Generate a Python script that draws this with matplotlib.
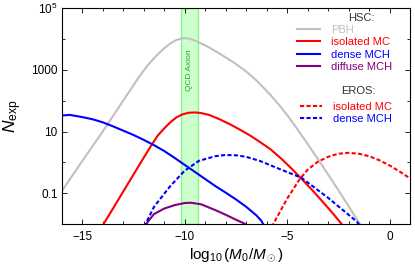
import numpy as np
import matplotlib
matplotlib.use('Agg')
import matplotlib.pyplot as plt
from matplotlib.ticker import FixedLocator, NullFormatter

plt.rcParams['font.family'] = ['Liberation Sans', 'DejaVu Sans']
plt.rcParams['mathtext.fontset'] = 'custom'
plt.rcParams['mathtext.rm'] = 'Liberation Sans'
plt.rcParams['mathtext.it'] = 'Liberation Sans:italic'

# ---- data: x = log10(M0/Msun), values = log10(N_exp)
pbh_x = [-16, -15, -14, -13, -12.6, -12.2, -11.8, -11.4, -11.0, -10.7, -10.4, -10.1,
         -9.8, -9.5, -9.0, -8.6, -8.2, -7.6, -7.1, -6.8, -6.5, -5.8, -5.3, -5.0, -4.5,
         -4.0, -3.5, -3.0, -2.5, -2.0, -1.6, -1.4]
pbh_log = [-0.94, 0.04, 1.0, 2.0, 2.4, 2.8, 3.15, 3.45, 3.7, 3.86, 3.97, 4.03,
           4.02, 3.95, 3.8, 3.65, 3.49, 3.24, 3.0, 2.84, 2.66, 2.18, 1.79, 1.54, 1.08,
           0.6, 0.11, -0.39, -0.9, -1.42, -1.84, -2.05]

iso_hsc_x = [-14.05, -13.5, -13, -12.5, -12, -11.6, -11.3, -11.0, -10.7, -10.4, -10.1,
             -9.8, -9.5, -9.2, -8.8, -8.3, -7.8, -7.3, -6.8, -6.3, -5.8, -5.3, -4.8,
             -4.3, -3.8, -3.3, -2.8, -2.4, -2.25]
iso_hsc_log = [-2.1, -1.5, -0.95, -0.4, 0.15, 0.58, 0.88, 1.1, 1.3, 1.46, 1.56,
               1.61, 1.62, 1.6, 1.54, 1.4, 1.24, 1.06, 0.87, 0.65, 0.42, 0.13, -0.19,
               -0.53, -0.88, -1.25, -1.63, -1.95, -2.08]

dense_hsc_x = [-16, -15.6, -15, -14.5, -14, -13.5, -13, -12.5, -12, -11.5, -11, -10.5,
               -10, -9.5, -9, -8.5, -8, -7.5, -7, -6.5, -6.25, -6.1]
dense_hsc_log = [1.52, 1.54, 1.47, 1.40, 1.30, 1.17, 1.03, 0.89, 0.73, 0.56, 0.37, 0.15,
                 -0.08, -0.31, -0.54, -0.77, -0.98, -1.2, -1.44, -1.72, -1.9, -2.1]

diffuse_hsc_x = [-11.95, -11.8, -11.5, -11.0, -10.5, -10.0, -9.7, -9.2, -8.5, -8.0,
                 -7.5, -7.1, -6.95]
diffuse_hsc_log = [-2.1, -1.93, -1.68, -1.5, -1.39, -1.32, -1.31, -1.36, -1.55, -1.7,
                   -1.86, -1.98, -2.05]

iso_eros_x = [-5.75, -5.6, -5.0, -4.4, -4.0, -3.5, -3.0, -2.5, -2.0, -1.5, -1.0, -0.5,
              0.0, 0.5, 1.0]
iso_eros_log = [-2.1, -1.91, -1.18, -0.56, -0.24, 0.02, 0.18, 0.28, 0.31, 0.28, 0.2,
                0.07, -0.1, -0.3, -0.52]

dense_eros_x = [-11.95, -11.8, -11.5, -11.0, -10.7, -10.0, -9.3, -8.5, -8.0, -7.5, -7.0,
                -6.3, -5.5, -4.3, -3.0, -2.0, -1.6, -1.45]
dense_eros_log = [-2.1, -1.85, -1.45, -1.02, -0.77, -0.27, 0.05, 0.2, 0.24, 0.23, 0.18,
                  0.04, -0.18, -0.5, -1.15, -1.7, -1.92, -2.05]

qcd_band = (-10.2, -9.37)

yticks = [0.1, 10, 1000, 1e5]
yticklabels = ['0.1', '10', '1000', r'$10^5$']
xticks = [-15, -10, -5, 0]
xticklabels = ['\u221215', '\u221210', '\u22125', '0']

# ==============================================================================

fig = plt.figure(figsize=(4.15, 2.7), dpi=100)
ax = fig.add_axes([0.1487, 0.1704, 0.8393, 0.7989])

ax.axvspan(qcd_band[0], qcd_band[1], facecolor='#ccffcc', edgecolor='#8ef08e',
           lw=1.0, zorder=0)
ax.text(np.mean(qcd_band), 1000, 'QCD Axion', rotation=90, color='#2aa82a',
        fontsize=6, ha='center', va='center', zorder=1)

lw = 1.5
dash = (2.0, 1.1)
l_pbh, = ax.plot(pbh_x, 10 ** np.array(pbh_log), color='#c0c0c0', lw=lw, label='PBH')
l_iso, = ax.plot(iso_hsc_x, 10 ** np.array(iso_hsc_log), color='#ff0000', lw=lw,
                 label='isolated MC')
l_den, = ax.plot(dense_hsc_x, 10 ** np.array(dense_hsc_log), color='#0000ff', lw=lw,
                 label='dense MCH')
l_dif, = ax.plot(diffuse_hsc_x, 10 ** np.array(diffuse_hsc_log), color='#800080', lw=lw,
                 label='diffuse MCH')
l_iso_e, = ax.plot(iso_eros_x, 10 ** np.array(iso_eros_log), color='#ff0000', lw=lw,
                   dashes=dash, label='isolated MC')
l_den_e, = ax.plot(dense_eros_x, 10 ** np.array(dense_eros_log), color='#0000ff', lw=lw,
                   dashes=dash, label='dense MCH')

ax.set_yscale('log')
ax.set_xlim(-16, 1)
ax.set_ylim(0.01, 1e5)

ax.yaxis.set_major_locator(FixedLocator(yticks))
ax.set_yticklabels(yticklabels)
ax.yaxis.set_minor_locator(FixedLocator([0.01, 1, 100, 1e4]))
ax.yaxis.set_minor_formatter(NullFormatter())
ax.set_xticks(xticks)
ax.set_xticklabels(xticklabels)
ax.xaxis.set_minor_locator(FixedLocator(np.arange(-16, 2, 1)))

ax.tick_params(which='both', direction='in', top=True, right=True, labelsize=8.5,
               width=0.6)
ax.tick_params(axis='x', which='both', pad=5)
ax.tick_params(axis='y', which='both', pad=3)
ax.tick_params(which='major', length=3.5)
ax.tick_params(which='minor', length=2)
for s in ax.spines.values():
    s.set_linewidth(0.8)

ax.set_xlabel(r'$\log_{10}(M_0/M_\odot)$', fontsize=11, labelpad=3)
ax.set_ylabel(r'$N_{\rm exp}$', fontsize=12.5, labelpad=5)

# legends (titles placed over the label column)
leg_kw = dict(loc='upper right', frameon=False, fontsize=8, handlelength=2.0,
              handletextpad=1.0, labelspacing=0.2, borderpad=0, borderaxespad=0,
              labelcolor='linecolor')
leg1 = ax.legend(handles=[l_pbh, l_iso, l_den, l_dif], bbox_to_anchor=(0.948, 0.922),
                 **leg_kw)
ax.add_artist(leg1)
ax.legend(handles=[l_iso_e, l_den_e], bbox_to_anchor=(0.948, 0.567), **leg_kw)
ax.text(0.859, 0.955, 'HSC:', transform=ax.transAxes, fontsize=8, color='#333333',
        ha='center', va='center')
ax.text(0.852, 0.617, 'EROS:', transform=ax.transAxes, fontsize=8, color='#333333',
        ha='center', va='center')

fig.savefig('out.png', dpi=100)
